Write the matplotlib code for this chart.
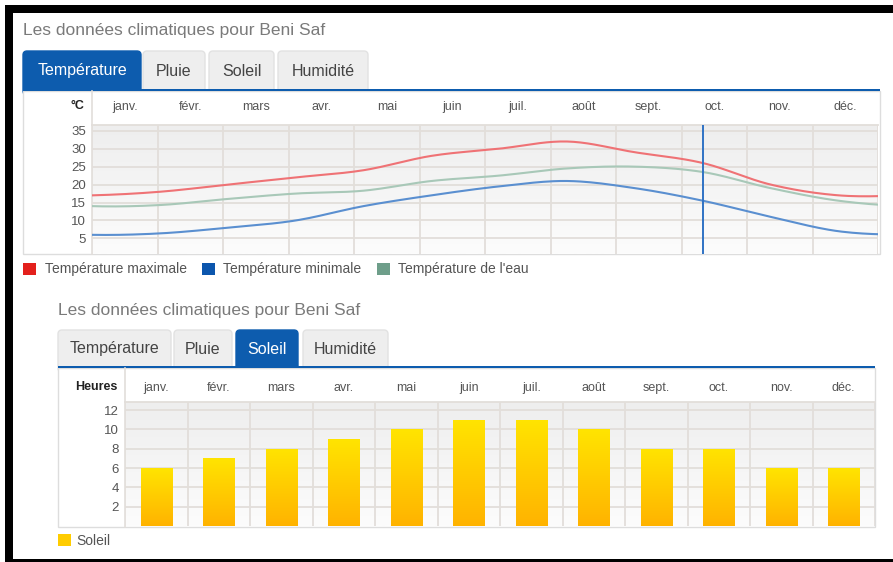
import numpy as np
import matplotlib
matplotlib.use("Agg")
import matplotlib.pyplot as plt
from matplotlib.patches import Rectangle, FancyBboxPatch, Patch
from matplotlib.lines import Line2D
from matplotlib.transforms import Affine2D
from matplotlib.colors import LinearSegmentedColormap

plt.rcParams["font.family"] = ["Liberation Sans", "DejaVu Sans"]

W, H = 893, 562

TITLE = "Les données climatiques pour Beni Saf"
TABS = ["Température", "Pluie", "Soleil", "Humidité"]
MONTHS = ["janv.", "févr.", "mars", "avr.", "mai", "juin",
          "juil.", "août", "sept.", "oct.", "nov.", "déc."]
SERIES = ["Température maximale", "Température minimale", "Température de l'eau"]
TEMP_MAX = [17, 18, 20, 22, 24, 28, 30, 32, 29, 26, 20, 17]
TEMP_MIN = [6, 6.4, 8, 10, 14, 17, 19.5, 21, 19, 15.5, 11, 7]
TEMP_WATER = [14, 14.3, 16, 17.5, 18.3, 21, 22.5, 24.5, 25, 23.5, 19, 15.5]
TEMP_TICKS = [5, 10, 15, 20, 25, 30, 35]
SUN_LABEL = "Soleil"
SUN_HOURS = [6, 7, 8, 9, 10, 11, 11, 10, 8, 8, 6, 6]
SUN_TICKS = [2, 4, 6, 8, 10, 12]

BLUE = "#0d5cae"
GRID = "#e2deda"
TXT = "#555555"
LEGEND_COLORS = ["#e3201c", "#0c56ad", "#6e9e8a"]
LINE_COLORS = ["#ef7275", "#5a8fd0", "#a8c8b8"]
LINE_XMAX = 11.58   # the line chart is clipped a bit after december
CROSSHAIR = 9       # hover line on october

BG_CMAP = LinearSegmentedColormap.from_list("bg", ["#eeeeee", "#fcfcfc"])
SUN_CMAP = LinearSegmentedColormap.from_list("sun", ["#ffe400", "#ffb300"])

fig = plt.figure(figsize=(W / 100, H / 100), dpi=100)
PX = Affine2D().scale(1, -1).translate(0, H)  # pixel coords, y from top


def box(x0, y0, x1, y1):
    return [x0 / W, 1 - y1 / H, (x1 - x0) / W, (y1 - y0) / H]


def rect(x0, y0, x1, y1, **kw):
    kw.setdefault("zorder", -5)
    kw.setdefault("lw", 0)
    fig.add_artist(Rectangle((x0, y0), x1 - x0, y1 - y0, transform=PX, **kw))


def label(x, y, s, **kw):
    fig.text(x, y, s, transform=PX, va="center", **kw)


def spline(vals):
    # catmull-rom through the monthly values, wrapping round the year
    v = np.asarray(vals, float)
    p = np.concatenate([v[-1:], v, v[:2]])
    t = np.linspace(0, 1, 20, endpoint=False)
    xs, ys = [], []
    for i in range(1, 13):
        p0, p1, p2, p3 = p[i - 1], p[i], p[i + 1], p[i + 2]
        y = 0.5 * (2 * p1 + (p2 - p0) * t + (2 * p0 - 5 * p1 + 4 * p2 - p3) * t ** 2
                   + (3 * p1 - p0 - 3 * p2 + p3) * t ** 3)
        xs.append(i - 1 + t)
        ys.append(y)
    return np.concatenate(xs), np.concatenate(ys)


def widget(left, right, title_y, tabs, active, tab_top, tab_bottom, box_bottom, col_x, unit, unit_y):
    label(left, title_y, TITLE, fontsize=12.5, color="#7a7a7a")
    for (x0, x1), name in zip(tabs, TABS):
        on = name == active
        fig.add_artist(FancyBboxPatch((x0, tab_top), x1 - x0, tab_bottom + 6 - tab_top,
                                      boxstyle="round,pad=0,rounding_size=4", transform=PX,
                                      fc=BLUE if on else "#eeeeee",
                                      ec=BLUE if on else "#e2e2e2", lw=1, zorder=-6))
        label((x0 + x1) / 2, (tab_top + tab_bottom) / 2 + 1, name, ha="center",
              fontsize=11.5, color="white" if on else "#444444")
    rect(left, tab_bottom + 2, right, box_bottom, fc="white", ec="#dddddd", lw=1)
    rect(left, tab_bottom - 0.5, right, tab_bottom + 2, fc=BLUE, zorder=-4)
    fig.add_artist(Line2D([col_x, col_x], [tab_bottom + 2, box_bottom], transform=PX,
                          color=GRID, lw=1.2, zorder=-3))
    label(col_x - 8, unit_y, unit, ha="right",
          fontsize=9, fontweight="bold", color="#222222")


def month_ticks(ax, pad):
    ax.xaxis.tick_top()
    ax.set_xticks(range(12), MONTHS)
    ax.set_xticks(np.arange(13) - 0.5, minor=True)
    ax.tick_params(axis="x", which="both", length=0, pad=pad, labelsize=9, labelcolor=TXT)


def style_axes(ax, ticks, ylim, pad):
    grad = np.linspace(0, 1, 100).reshape(-1, 1)
    ax.imshow(grad, cmap=BG_CMAP, aspect="auto", extent=(0, 1, 0, 1),
              transform=ax.transAxes, zorder=0)
    ax.set_xlim(-0.5, 11.5)
    ax.set_ylim(*ylim)
    month_ticks(ax, pad)
    ax.set_yticks(ticks)
    ax.tick_params(axis="y", length=0, pad=4.5, labelsize=9.5, labelcolor=TXT)
    ax.grid(True, which="minor", axis="x", color=GRID, lw=1.3)
    ax.grid(True, which="major", axis="y", color=GRID, lw=1.3)
    ax.grid(False, which="major", axis="x")
    for side in ["left", "right", "bottom"]:
        ax.spines[side].set_visible(False)
    ax.spines["top"].set_color(GRID)
    ax.spines["top"].set_linewidth(1.3)


# black frame of the screenshot
rect(5, 5, W, 13, fc="black", zorder=10)
rect(5, 5, 13, H, fc="black", zorder=10)
rect(5, 559, W, H, fc="black", zorder=10)

# ---- temperature widget
widget(23, 880, 30, [(23, 141), (143, 205), (209, 274), (278, 368)], "Température",
       51, 89, 254, 92, "°C", 106)
ax = fig.add_axes(box(92, 125, 878, 253.5))
style_axes(ax, TEMP_TICKS, (0.8, 36.6), 8.5)

ax2 = ax.twiny()
month_ticks(ax, 8.5)  # twiny moves the parent's ticks to the bottom
ax2.set_xlim(0, LINE_XMAX)
ax2.set_xticks([])
for s in ax2.spines.values():
    s.set_visible(False)
for vals, c in zip([TEMP_MAX, TEMP_MIN, TEMP_WATER], LINE_COLORS):
    xs, ys = spline(vals)
    ax2.plot(xs, ys, color=c, lw=1.5, solid_capstyle="round")
ax2.axvline(CROSSHAIR, color="#2f72c4", lw=1.4)

fig.legend(handles=[Patch(fc=c, ec="none") for c in LEGEND_COLORS], labels=SERIES,
           loc="center left", bbox_to_anchor=(23 / W, 1 - 269.5 / H), ncol=3, frameon=False,
           fontsize=10, handlelength=0.95, handleheight=0.95, handletextpad=0.6,
           columnspacing=1.1, borderpad=0, borderaxespad=0, labelcolor=TXT)

# ---- sunshine widget
widget(58, 875, 311, [(58, 171), (174, 232), (236, 298), (303, 388)], "Soleil",
       330, 366, 527, 125, "Heures", 387)
ax3 = fig.add_axes(box(125, 401.7, 875, 526))
style_axes(ax3, SUN_TICKS, (0, 12.88), 5.5)
bars = ax3.bar(range(12), SUN_HOURS, width=0.5, color="#ffcc00", zorder=2)
grad = np.linspace(0, 1, 100).reshape(-1, 1)
for b in bars:
    im = ax3.imshow(grad, cmap=SUN_CMAP, aspect="auto", zorder=2.1,
                    extent=(b.get_x(), b.get_x() + b.get_width(), 0, b.get_height()))
    im.set_clip_path(b)
ax3.set_xlim(-0.5, 11.5)
ax3.set_ylim(0, 12.88)

fig.legend(handles=[Patch(fc="#ffcc00", ec="none")], labels=[SUN_LABEL],
           loc="center left", bbox_to_anchor=(58 / W, 1 - 541 / H), frameon=False,
           fontsize=10, handlelength=0.95, handleheight=0.95, handletextpad=0.4,
           borderpad=0, borderaxespad=0, labelcolor=TXT)

fig.savefig("out.png", dpi=100, facecolor="white")
